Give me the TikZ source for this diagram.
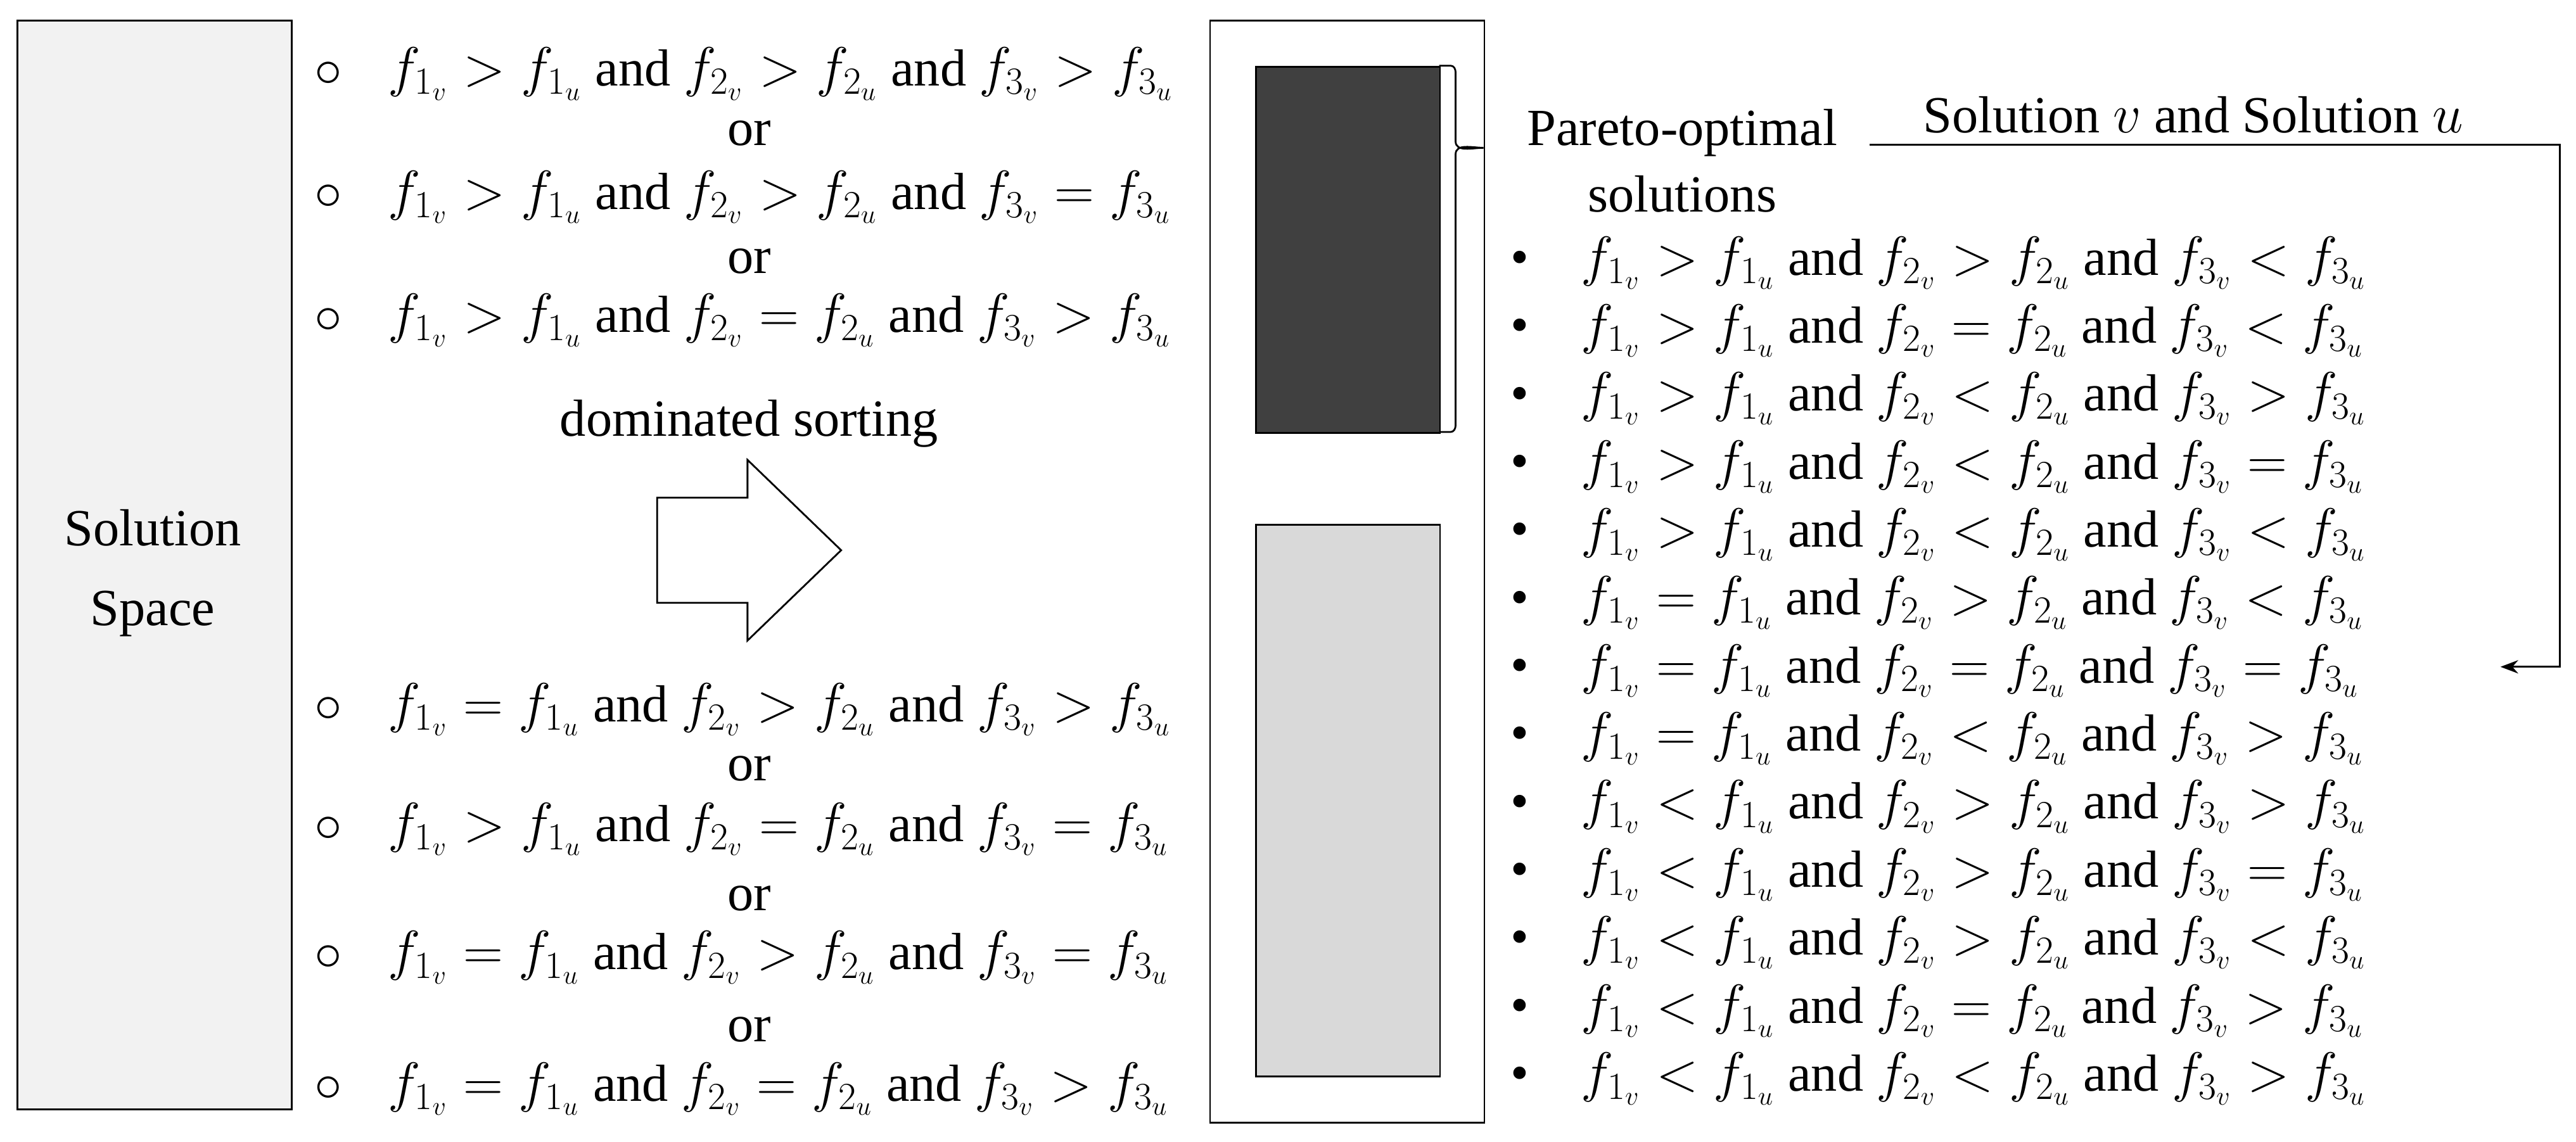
\documentclass[tikz,border=0pt]{standalone}
\usepackage{fontspec}
\setmainfont{Liberation Serif}
\usetikzlibrary{arrows.meta}
\begin{document}
\begin{tikzpicture}[x=0.026cm,y=-0.026cm,
  txt/.style={inner sep=0pt,font=\fontsize{23.5}{28}\selectfont},
  cond/.style={txt,anchor=west},
  box/.style={draw,line width=0.8pt}]
\useasboundingbox (0,0) rectangle (1568,695);
\newcommand{\rel}[3]{$f_{1_v} #1 f_{1_u}$ and $f_{2_v} #2 f_{2_u}$ and $f_{3_v} #3 f_{3_u}$}
% solution space
\node[box,fill={rgb,255:red,242;green,242;blue,242},minimum width=167*0.026cm,minimum height=663*0.026cm,anchor=north west] (ss) at (10,12) {};
\node[txt,align=center] (sst) at (93,349) {Solution\\[8pt]Space};
% left conditions
\foreach \y/\a/\b/\c/\n in {45/>/>/>/l1,120/>/>/=/l2,195/>/=/>/l3,432/=/>/>/l4,505/>/=/=/l5,583/=/>/=/l6,663/=/=/>/l7}{
  \node[txt] (c\n) at (200,\y) {$\circ$};
  \node[cond] (\n) at (236,\y) {\rel{\a}{\b}{\c}};
}
\foreach \y/\n in {81/o1,159/o2,468/o3,547/o4,627/o5}{\node[txt] (\n) at (456,\y) {or};}
\node[txt] (ds) at (456,258) {dominated sorting};
\draw[line width=0.8pt,fill=white] (400,303) -- (455,303) -- (455,280) -- (512,335) -- (455,390) -- (455,367) -- (400,367) -- cycle;
% middle box
\node[box,minimum width=167*0.026cm,minimum height=671*0.026cm,anchor=north west] (mid) at (736,12) {};
\node[box,fill={rgb,255:red,64;green,64;blue,64},minimum width=112*0.026cm,minimum height=223*0.026cm,anchor=north west] (dark) at (764,40) {};
\node[box,fill={rgb,255:red,217;green,217;blue,217},minimum width=112*0.026cm,minimum height=336*0.026cm,anchor=north west] (light) at (764,319) {};
\coordinate (bt) at (876,40);
\coordinate (bb) at (876,263);
\coordinate (btip) at (903,90);
\draw[line width=0.8pt] (bt) -- (883,40) to[out=0,in=90] (886,44) -- (886,86) to[out=-90,in=180] (btip) to[out=180,in=90] (886,94) -- (886,259) to[out=-90,in=0] (883,263) -- (bb);
\node[txt,align=center] (po) at (1024,98) {Pareto-optimal\\[2pt]solutions};
\node[txt] (svu) at (1335,70) {Solution $v$ and Solution $u$};
\coordinate (l0) at (1138,88);
\coordinate (l1) at (1558,88);
\coordinate (l2) at (1558,406);
\coordinate (l3) at (1522,406);
\draw[line width=0.8pt,-{Stealth[length=8pt,width=6pt]}] (l0) -- (l1) -- (l2) -- (l3);
% right list
\foreach \i/\a/\b/\c in {0/>/>/<,1/>/=/<,2/>/</>,3/>/</=,4/>/</<,5/=/>/<,6/=/=/=,7/=/</>,8/</>/>,9/</>/=,10/</>/<,11/</=/>,12/</</>}{
  \pgfmathsetmacro{\yy}{160+\i*41.4}
  \node[txt] (b\i) at (925,\yy) {\textbullet};
  \node[cond] (r\i) at (962,\yy) {\rel{\a}{\b}{\c}};
}
\end{tikzpicture}
\end{document}
